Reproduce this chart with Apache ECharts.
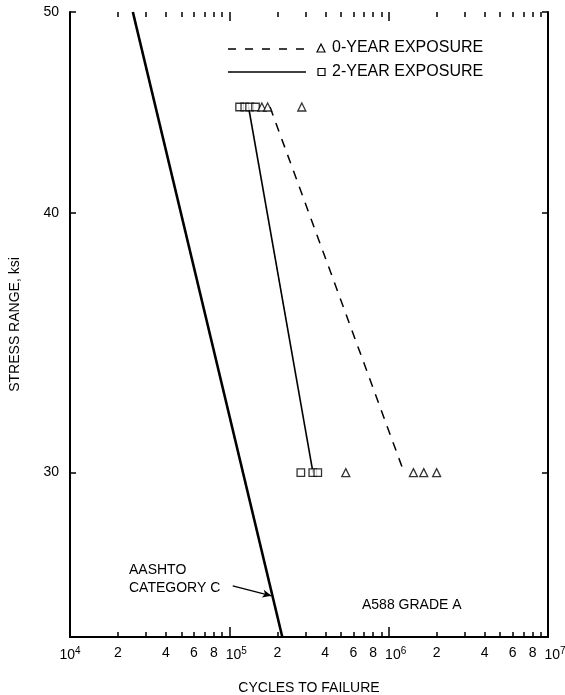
<!DOCTYPE html>
<html>
<head>
<meta charset="utf-8">
<script src="https://cdn.jsdelivr.net/npm/echarts@6/dist/echarts.min.js"></script>
<style>html,body{margin:0;padding:0;background:#fff}#c{width:565px;height:695px}</style>
</head>
<body>
<div id="c"></div>
<script>
// ---- data ----
const xMinorTicks = [1e4,2e4,3e4,4e4,5e4,6e4,7e4,8e4,9e4,1e5,2e5,3e5,4e5,5e5,6e5,7e5,8e5,9e5,1e6,2e6,3e6,4e6,5e6,6e6,7e6,8e6,9e6,1e7];
const xDecadeTicks = [1e4,1e5,1e6,1e7];
const xTickLabels = [1e4,2e4,4e4,6e4,8e4,1e5,2e5,4e5,6e5,8e5,1e6,2e6,4e6,6e6,8e6,1e7];
const yTickLabels = [30,40,50];
// AASHTO Category C line (cycles, ksi)
const aashtoC = [[24800,50],[215000,25]];
// 2-year exposure fitted line (solid)
const fit2yr = [[132000,45],[335000,30]];
// 0-year exposure fitted line (dashed)
const fit0yr = [[180000,45],[1250000,30]];
// test points
const pts2yr = [[116000,45],[125000,45],[134000,45],[146000,45],[281000,30],[334000,30],[359000,30]];
const pts0yr = [[160000,45],[174000,45],[285000,45],[538000,30],[1430000,30],[1660000,30],[2000000,30]];
// annotation arrow (cycles, ksi)
const arrowLine = [[105000,26.46],[184000,26.17]];

const FONT = '"Liberation Sans", Arial, sans-serif';
function xFmt(v){
  const e = Math.round(Math.log10(v));
  if (Math.abs(v - Math.pow(10,e)) < 1e-6*v) return (e === 4 ? '{b|10}' : '{d|10}') + '{s|' + e + '}';
  const d = Math.pow(10, Math.floor(Math.log10(v) + 1e-9));
  return '{b|' + Math.round(v/d) + '}';
}
const axisLineStyle = {color:'#000', width:2};
function xAx(pos, ticks, len, labels){
  return {
    type:'log', logBase:10, min:1e4, max:1e7, position:pos,
    axisLine:{show: labels, lineStyle:axisLineStyle},
    axisTick:{show:true, inside:true, length:len, customValues:ticks, lineStyle:{color:'#000', width:1.5}},
    axisLabel:{show:labels, customValues:xTickLabels, formatter:xFmt, margin:9, hideOverlap:false,
      rich:{b:{fontSize:14, fontFamily:FONT, color:'#000'},
            d:{fontSize:14, fontFamily:FONT, color:'#000', padding:[0,0,0,14]},
            s:{fontSize:10, fontFamily:FONT, color:'#000', padding:[0,0,9,0]}}},
    splitLine:{show:false}, minorTick:{show:false},
    name: (pos==='bottom' && labels) ? 'CYCLES TO FAILURE' : '',
    nameLocation:'middle', nameGap:44,
    nameTextStyle:{fontSize:14, fontFamily:FONT, color:'#000'}
  };
}
function yAx(pos, labels){
  return {
    type:'log', logBase:10, min:25, max:50, position:pos,
    axisLine:{show:true, lineStyle:axisLineStyle},
    axisTick:{show:true, inside:true, length:6, customValues:yTickLabels, lineStyle:{color:'#000', width:1.5}},
    axisLabel:{show:labels, customValues:yTickLabels, margin:11, fontSize:14, fontFamily:FONT, color:'#000'},
    splitLine:{show:false}, minorTick:{show:false},
    name: labels ? 'STRESS RANGE, ksi' : '',
    nameLocation:'middle', nameGap:48, nameRotate:90,
    nameTextStyle:{fontSize:14, fontFamily:FONT, color:'#000'}
  };
}

const chart = echarts.init(document.getElementById('c'), null, {renderer:'canvas'});
chart.setOption({
  animation:false,
  backgroundColor:'#fff',
  grid:{left:70, right:17, top:12, bottom:58, containLabel:false, outerBoundsMode:'none'},
  xAxis:[xAx('bottom', xMinorTicks, 5, true), xAx('bottom', xDecadeTicks, 10, false),
         xAx('top', xMinorTicks, 5, false), xAx('top', xDecadeTicks, 9, false)],
  yAxis:[yAx('left', true), yAx('right', false)],
  series:[
    {type:'line', data:aashtoC, symbol:'none', lineStyle:{color:'#000', width:2.6},
     markLine:{silent:true, symbol:['none','arrow'], symbolSize:[6,9], label:{show:false},
       lineStyle:{color:'#000', width:1.3, type:'solid'},
       data:[[{coord:arrowLine[0]},{coord:arrowLine[1]}]]}},
    {type:'line', data:fit2yr, symbol:'none', lineStyle:{color:'#000', width:1.6}},
    {type:'line', data:fit0yr, symbol:'none', lineStyle:{color:'#000', width:1.5, type:[9,8]}},
    {type:'scatter', data:pts2yr, symbol:'rect', symbolSize:7.5, itemStyle:{color:'#fff', borderColor:'#000', borderWidth:1.3}, z:5},
    {type:'scatter', data:pts0yr, symbol:'triangle', symbolSize:8, itemStyle:{color:'#fff', borderColor:'#000', borderWidth:1.3}, z:5}
  ],
  graphic:[
    {type:'line', shape:{x1:228,y1:49,x2:306,y2:49}, style:{stroke:'#000', lineWidth:1.5, lineDash:[8,9]}},
    {type:'polygon', shape:{points:[[321,44],[325,52],[317,52]]}, style:{fill:'#fff', stroke:'#000', lineWidth:1.2}},
    {type:'text', left:332, top:40, style:{text:'0-YEAR EXPOSURE', fontSize:16, fontFamily:FONT, fill:'#000'}},
    {type:'line', shape:{x1:228,y1:72,x2:306,y2:72}, style:{stroke:'#000', lineWidth:1.6}},
    {type:'rect', shape:{x:318,y:68.5,width:7,height:7}, style:{fill:'#fff', stroke:'#000', lineWidth:1.2}},
    {type:'text', left:332, top:64, style:{text:'2-YEAR EXPOSURE', fontSize:16, fontFamily:FONT, fill:'#000'}},
    {type:'text', left:129, top:563, style:{text:'AASHTO', fontSize:14, fontFamily:FONT, fill:'#000'}},
    {type:'text', left:129, top:581, style:{text:'CATEGORY C', fontSize:14, fontFamily:FONT, fill:'#000'}},
    {type:'text', left:362, top:598, style:{text:'A588 GRADE A', fontSize:14, fontFamily:FONT, fill:'#000'}}
  ]
});
</script>
</body>
</html>
